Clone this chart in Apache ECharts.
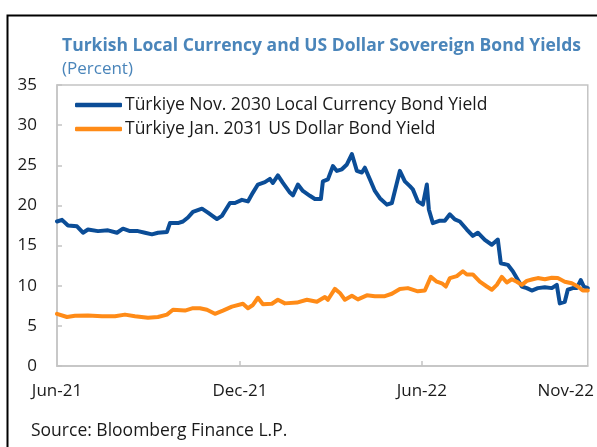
<!DOCTYPE html>
<html>
<head>
<meta charset="utf-8">
<script src="https://cdn.jsdelivr.net/npm/echarts@6/dist/echarts.min.js"></script>
<style>
  html, body { margin: 0; padding: 0; background: #fff; }
  #main { width: 597px; height: 447px; }
</style>
</head>
<body>
<div id="main"></div>
<script>
// Türkiye Nov. 2030 local currency bond yield (percent)
var localDates = [
  "2021-06-01", "2021-06-06", "2021-06-12", "2021-06-21", "2021-06-27", "2021-07-02", "2021-07-12",
  "2021-07-22", "2021-07-31", "2021-08-06", "2021-08-13", "2021-08-21", "2021-08-28", "2021-09-04",
  "2021-09-10", "2021-09-19", "2021-09-22", "2021-09-30", "2021-10-05", "2021-10-10", "2021-10-15",
  "2021-10-24", "2021-10-30", "2021-11-08", "2021-11-13", "2021-11-16", "2021-11-21", "2021-11-26",
  "2021-12-03", "2021-12-09", "2021-12-14", "2021-12-19", "2021-12-26", "2021-12-31", "2022-01-03",
  "2022-01-08", "2022-01-13", "2022-01-20", "2022-01-23", "2022-01-28", "2022-02-02", "2022-02-09",
  "2022-02-14", "2022-02-20", "2022-02-22", "2022-02-27", "2022-03-04", "2022-03-08", "2022-03-13",
  "2022-03-18", "2022-03-23", "2022-03-28", "2022-04-02", "2022-04-05", "2022-04-10", "2022-04-15",
  "2022-04-20", "2022-04-27", "2022-05-02", "2022-05-05", "2022-05-10", "2022-05-15", "2022-05-20",
  "2022-05-23", "2022-05-28", "2022-06-02", "2022-06-06", "2022-06-08", "2022-06-12", "2022-06-19",
  "2022-06-24", "2022-06-29", "2022-07-04", "2022-07-09", "2022-07-16", "2022-07-22", "2022-07-27",
  "2022-08-03", "2022-08-10", "2022-08-16", "2022-08-19", "2022-08-26", "2022-08-31", "2022-09-05",
  "2022-09-09", "2022-09-14", "2022-09-19", "2022-09-25", "2022-10-02", "2022-10-09", "2022-10-14",
  "2022-10-17", "2022-10-22", "2022-10-25", "2022-10-30", "2022-11-03", "2022-11-07", "2022-11-10",
  "2022-11-14"
];
var localYield = [
  18.0, 18.2, 17.5, 17.4, 16.6, 17.0, 16.8,
  16.9, 16.6, 17.1, 16.8, 16.8, 16.6, 16.4,
  16.6, 16.7, 17.8, 17.8, 18.0, 18.5, 19.2,
  19.6, 19.1, 18.3, 18.7, 19.3, 20.3, 20.3,
  20.7, 20.5, 21.6, 22.6, 22.9, 23.3, 22.8,
  23.75, 22.8, 21.6, 21.25, 22.6, 21.8, 21.2,
  20.8, 20.8, 23.0, 23.25, 24.9, 24.3, 24.5,
  25.1, 26.4, 24.3, 24.1, 24.7, 23.25, 21.8,
  20.9, 20.1, 20.3, 21.8, 24.3, 23.0, 22.4,
  22.0, 20.5, 20.1, 22.6, 19.5, 17.8, 18.1,
  18.1, 18.9, 18.25, 18.0, 17.0, 16.2, 16.6,
  15.7, 15.1, 15.75, 12.8, 12.6, 11.8, 10.75,
  9.9, 9.7, 9.4, 9.7, 9.8, 9.7, 10.1,
  7.8, 8.0, 9.5, 9.7, 9.7, 10.7, 9.9,
  9.7
];

// Türkiye Jan. 2031 US dollar bond yield (percent)
var usdDates = [
  "2021-06-01", "2021-06-11", "2021-06-19", "2021-07-02", "2021-07-16", "2021-07-29", "2021-08-08",
  "2021-08-18", "2021-08-31", "2021-09-10", "2021-09-19", "2021-09-25", "2021-10-07", "2021-10-15",
  "2021-10-22", "2021-10-29", "2021-11-06", "2021-11-14", "2021-11-23", "2021-12-04", "2021-12-09",
  "2021-12-14", "2021-12-19", "2021-12-24", "2022-01-02", "2022-01-08", "2022-01-15", "2022-01-27",
  "2022-02-06", "2022-02-16", "2022-02-24", "2022-02-27", "2022-03-06", "2022-03-11", "2022-03-16",
  "2022-03-23", "2022-03-29", "2022-04-07", "2022-04-15", "2022-04-25", "2022-05-02", "2022-05-10",
  "2022-05-18", "2022-05-28", "2022-06-04", "2022-06-10", "2022-06-16", "2022-06-21", "2022-06-25",
  "2022-06-29", "2022-07-06", "2022-07-12", "2022-07-16", "2022-07-22", "2022-07-29", "2022-08-05",
  "2022-08-10", "2022-08-15", "2022-08-20", "2022-08-25", "2022-08-30", "2022-09-04", "2022-09-09",
  "2022-09-14", "2022-09-20", "2022-09-25", "2022-10-02", "2022-10-09", "2022-10-15", "2022-10-22",
  "2022-10-29", "2022-11-04", "2022-11-09", "2022-11-14"
];
var usdYield = [
  6.5, 6.1, 6.25, 6.3, 6.2, 6.2, 6.4,
  6.2, 6.0, 6.1, 6.4, 7.0, 6.9, 7.2,
  7.2, 7.0, 6.5, 6.9, 7.4, 7.75, 7.2,
  7.6, 8.5, 7.7, 7.75, 8.25, 7.8, 7.9,
  8.25, 8.0, 8.6, 8.25, 9.6, 9.1, 8.25,
  8.75, 8.3, 8.8, 8.7, 8.7, 9.0, 9.6,
  9.7, 9.3, 9.4, 11.1, 10.5, 10.3, 9.9,
  10.95, 11.2, 11.8, 11.4, 11.4, 10.5, 9.9,
  9.5, 10.1, 11.1, 10.4, 10.8, 10.5, 10.1,
  10.6, 10.8, 10.95, 10.8, 11.0, 10.95, 10.5,
  10.3, 9.9, 9.4, 9.4
];

var seriesNames = [
  "Türkiye Nov. 2030 Local Currency Bond Yield",
  "Türkiye Jan. 2031 US Dollar Bond Yield"
];
var tickDates = ["2021-12-01", "2022-06-01"];
var labelDates = ["2021-06-01", "2021-12-01", "2022-06-01", "2022-10-23"];
var tickLabels = ["Jun-21", "Dec-21", "Jun-22", "Nov-22"];

var FONT = "Open Sans";
var TXT = "#1a1a1a";
var AXIS = "#c4c4c4";
var BLUE = "#0b4d97";
var ORANGE = "#ff8b17";

function ts(s) {
  return echarts.number.parseDate(s).getTime();
}
var labelValues = labelDates.map(ts);

var chart = echarts.init(document.getElementById("main"), null, { renderer: "canvas" });

var option = {
  animation: false,
  backgroundColor: "#fff",
  textStyle: { fontFamily: FONT },
  title: [
    {
      text: "Turkish Local Currency and US Dollar Sovereign Bond Yields",
      left: 57,
      top: 31,
      textStyle: { fontFamily: FONT, fontSize: 17.5, lineHeight: 20, fontWeight: "bold", color: "#4a85ba" }
    },
    {
      text: "(Percent)",
      left: 57,
      top: 54,
      textStyle: { fontFamily: FONT, fontSize: 17, lineHeight: 20, fontWeight: "normal", color: "#4a85ba" }
    }
  ],
  graphic: [
    {
      type: "rect",
      left: 5,
      top: 13,
      shape: { x: 0, y: 0, width: 700, height: 600 },
      style: { fill: "none", stroke: "#000", lineWidth: 2 },
      silent: true
    },
    {
      type: "text",
      left: 31,
      top: 422,
      style: { text: "Source: Bloomberg Finance L.P.", font: "17.5px " + FONT, fill: TXT }
    }
  ],
  legend: {
    left: 70,
    top: 91,
    orient: "vertical",
    icon: "roundRect",
    itemWidth: 47,
    itemHeight: 4.5,
    itemGap: 6,
    textStyle: { fontFamily: FONT, fontSize: 17.5, lineHeight: 18, color: TXT, padding: [0, 0, 0, -2] },
    data: seriesNames
  },
  grid: {
    left: 57,
    right: 9,
    top: 85,
    bottom: 81,
    show: true,
    borderColor: AXIS,
    borderWidth: 1.5
  },
  xAxis: {
    type: "value",
    min: ts("2021-06-01"),
    max: ts("2022-11-14"),
    splitLine: { show: false },
    axisLine: { lineStyle: { color: AXIS, width: 1.5 } },
    axisTick: {
      inside: true,
      length: 5,
      lineStyle: { color: AXIS, width: 1.5 },
      customValues: tickDates.map(ts)
    },
    axisLabel: {
      margin: 17,
      fontFamily: FONT,
      fontSize: 17,
      color: TXT,
      customValues: labelValues,
      formatter: function (v) {
        var i = labelValues.indexOf(v);
        return i >= 0 ? tickLabels[i] : "";
      }
    }
  },
  yAxis: {
    type: "value",
    min: 0,
    max: 35,
    interval: 5,
    splitLine: { show: false },
    axisLine: { show: true, lineStyle: { color: AXIS, width: 1.5 } },
    axisTick: { show: true, inside: true, length: 5, lineStyle: { color: AXIS, width: 1.5 } },
    axisLabel: { margin: 20, fontFamily: FONT, fontSize: 17, color: TXT }
  },
  series: [
    {
      name: seriesNames[0],
      type: "line",
      symbol: "none",
      color: BLUE,
      lineStyle: { width: 4, color: BLUE, cap: "round", join: "round" },
      data: localDates.map(function (d, i) { return [ts(d), localYield[i]]; }),
      z: 2
    },
    {
      name: seriesNames[1],
      type: "line",
      symbol: "none",
      color: ORANGE,
      lineStyle: { width: 4, color: ORANGE, cap: "round", join: "round" },
      data: usdDates.map(function (d, i) { return [ts(d), usdYield[i]]; }),
      z: 3
    }
  ]
};

chart.setOption(option);
</script>
</body>
</html>
